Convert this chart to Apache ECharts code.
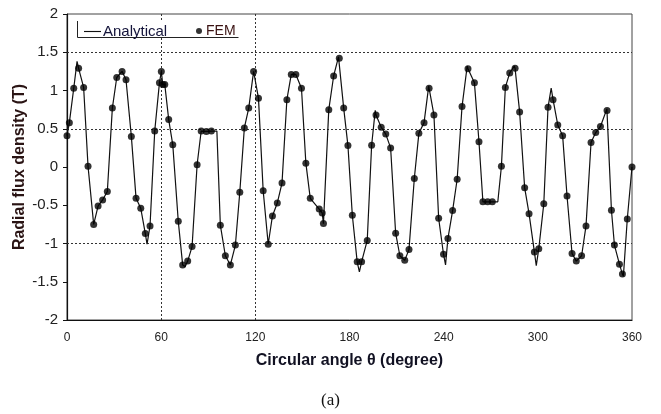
<!DOCTYPE html>
<html>
<head>
<meta charset="utf-8">
<script src="https://cdn.jsdelivr.net/npm/echarts@6/dist/echarts.min.js"></script>
<style>
  html, body { margin: 0; padding: 0; background: #fff; }
  #chart { width: 661px; height: 414px; }
</style>
</head>
<body>
<div id="chart"></div>
<script>
// FEM samples: circular angle (degree) and radial flux density (T)
const femAngle = [
  0, 1.5, 4.3, 7.4, 10.6, 13.4, 17.0, 19.8, 22.7, 25.7, 28.9, 31.7, 35.1, 37.6, 41.0, 44.0, 47.0, 49.9, 52.9, 55.9,
  58.9, 60.1, 61.0, 62.3, 64.8, 67.4, 70.9, 73.7, 76.9, 79.7, 82.9, 85.5, 88.8, 92.0, 97.7, 100.9, 104.1, 107.3, 110.1, 113.0,
  115.8, 118.9, 122.0, 125.0, 128.2, 130.9, 134.0, 137.0, 140.1, 142.9, 145.8, 149.4, 152.2, 155.0, 160.7, 162.6, 163.4, 166.8, 169.9, 173.5,
  176.3, 179.0, 181.8, 184.9, 187.7, 191.3, 194.1, 196.9, 200.2, 203.1, 206.2, 209.4, 212.1, 215.2, 217.9, 221.3, 224.2, 227.5, 230.7, 233.8,
  236.8, 239.9, 242.7, 245.7, 248.6, 251.7, 255.5, 259.6, 262.5, 265.0, 268.0, 271.0, 276.8, 279.3, 282.1, 285.5, 288.4, 291.6, 294.4, 297.8,
  300.6, 303.8, 306.5, 309.7, 312.7, 315.8, 318.6, 321.8, 324.5, 327.9, 330.7, 333.9, 336.9, 339.9, 344.1, 346.9, 348.8, 352.0, 353.9, 357.0,
  360
];
const femB = [
  0.41, 0.58, 1.03, 1.29, 1.04, 0.01, -0.75, -0.51, -0.43, -0.32, 0.77, 1.17, 1.25, 1.14, 0.40, -0.41, -0.54, -0.87, -0.77, 0.47,
  1.10, 1.25, 1.08, 1.08, 0.62, 0.29, -0.71, -1.28, -1.23, -1.04, 0.03, 0.47, 0.465, 0.47, -0.76, -1.16, -1.28, -1.02, -0.33, 0.51,
  0.77, 1.25, 0.90, -0.31, -1.01, -0.64, -0.47, -0.21, 0.88, 1.21, 1.21, 1.03, 0.05, -0.41, -0.55, -0.60, -0.74, 0.75, 1.19, 1.42,
  0.77, 0.28, -0.63, -1.24, -1.24, -0.96, 0.285, 0.68, 0.52, 0.43, 0.25, -0.865, -1.16, -1.22, -1.08, -0.15, 0.44, 0.58, 1.03, 0.68,
  -0.67, -1.14, -0.935, -0.57, -0.16, 0.79, 1.285, 1.10, 0.33, -0.455, -0.455, -0.455, 0.01, 1.04, 1.23, 1.29, 0.72, -0.27, -0.61, -1.11,
  -1.07, -0.48, 0.78, 0.88, 0.55, 0.41, -0.38, -1.13, -1.23, -1.16, -0.77, 0.32, 0.45, 0.53, 0.74, -0.565, -1.02, -1.27, -1.40, -0.68,
  0.0
];

// Analytical curve: passes through the FEM samples, plus its own extrema between samples
const peakAngle = [6.4, 51.0, 75.3, 95.5, 173.0, 186.3, 196.4, 230.5, 241.2, 255.0, 274.5, 285.0, 299.0, 308.5, 344.0, 354.5];
const peakB     = [1.38, -1.01, -1.30, 0.47, 1.44, -1.37, 0.74, 1.06, -1.28, 1.32, -0.455, 1.32, -1.29, 1.03, 0.76, -1.43];

// Axis ticks and dotted reference lines
const xTicks = [0, 60, 120, 180, 240, 300, 360];
const yTicks = [-2, -1.5, -1, -0.5, 0, 0.5, 1, 1.5, 2];
const refB = [1.5, 0.5, -1];
const refAngle = [60, 120];

const femData = femAngle.map((a, i) => [a, femB[i]]);
const analyticalData = femData
  .concat(peakAngle.map((a, i) => [a, peakB[i]]))
  .sort((p, q) => p[0] - q[0]);

const chart = echarts.init(document.getElementById('chart'), null, { renderer: 'canvas' });

const refLines = refB.map(v => ({ yAxis: v })).concat(refAngle.map(v => ({ xAxis: v })));

chart.setOption({
  animation: false,
  backgroundColor: '#fff',
  textStyle: { fontFamily: 'Liberation Sans, Arial, sans-serif' },
  grid: {
    left: 67, right: 29, top: 14, bottom: 94,
    outerBoundsMode: 'none', containLabel: false,
    show: true, borderColor: '#444', borderWidth: 1, backgroundColor: 'transparent'
  },
  legend: [
    {
      data: [{ name: 'Analytical', icon: 'path://M0,0 L18,0 L18,1.2 L0,1.2 Z' }],
      left: 84, top: 24, itemWidth: 17, itemHeight: 1.4, itemGap: 0, padding: 0,
      textStyle: { fontSize: 15, color: '#14143a', padding: [0, 0, 0, -3] }, z: 20
    },
    {
      data: [{ name: 'FEM', icon: 'circle' }],
      left: 196, top: 24, itemWidth: 6, itemHeight: 6, padding: 0,
      textStyle: { fontSize: 14, color: '#3a1212', padding: [0, 0, 0, -1] }, z: 20
    }
  ],
  graphic: [
    { type: 'rect', shape: { x: 77, y: 21, width: 162, height: 17 }, style: { fill: '#fff' }, z: 15 },
    { type: 'polyline', shape: { points: [[77.5, 21], [77.5, 37.5], [238.5, 37.5]] },
      style: { stroke: '#222', lineWidth: 1, fill: null }, z: 16 },
    { type: 'text', left: 'center', top: 392,
      style: { text: '(a)', font: '17px "Liberation Serif", "Times New Roman", serif', fill: '#111' } }
  ],
  xAxis: {
    type: 'value', min: 0, max: 360, interval: 60,
    name: 'Circular angle θ (degree)', nameLocation: 'middle', nameGap: 33, nameMoveOverlap: false,
    nameTextStyle: { fontSize: 16, fontWeight: 'bold', color: '#111122' },
    axisLine: { onZero: false, lineStyle: { color: '#111', width: 1.2 } },
    axisTick: { show: false },
    axisLabel: { fontSize: 12, color: '#222', margin: 12,
      customValues: xTicks },
    splitLine: { show: false }
  },
  yAxis: {
    type: 'value', min: -2, max: 2, interval: 0.5,
    name: 'Radial flux density (T)', nameLocation: 'middle', nameGap: 39, nameMoveOverlap: false,
    nameTextStyle: { fontSize: 16, fontWeight: 'bold', color: '#2a1414' },
    axisLine: { show: true, onZero: false, lineStyle: { color: '#111', width: 1.2 } },
    axisTick: { show: true, length: 4, lineStyle: { color: '#111' } },
    axisLabel: { fontSize: 15, color: '#222', margin: 9,
      formatter: v => (yTicks.includes(v) ? String(v) : '') },
    splitLine: { show: false }
  },
  series: [
    {
      name: 'Analytical', type: 'line', data: analyticalData,
      showSymbol: false, symbol: 'none', smooth: false,
      lineStyle: { color: '#111', width: 1.2 },
      itemStyle: { color: '#111' },
      z: 3,
      markLine: {
        silent: true, symbol: 'none', label: { show: false },
        lineStyle: { type: [2, 2], color: '#333', width: 1 },
        data: refLines, z: 1
      }
    },
    {
      name: 'FEM', type: 'scatter', data: femData,
      symbol: 'circle', symbolSize: 7,
      itemStyle: { color: '#000' },
      z: 4
    }
  ]
});
</script>
</body>
</html>
